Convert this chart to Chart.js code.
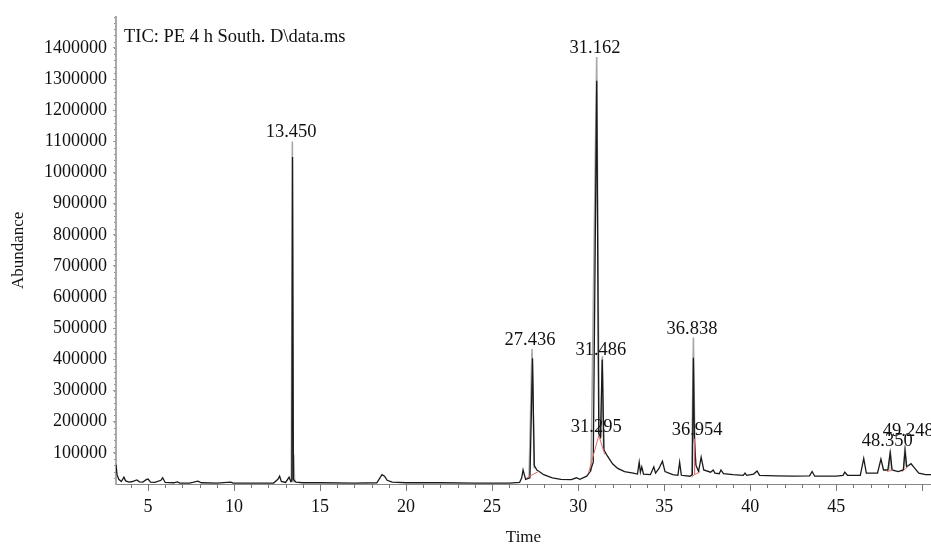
<!DOCTYPE html>
<html>
<head>
<meta charset="utf-8">
<script src="https://cdn.jsdelivr.net/npm/chart.js@4"></script>
<style>
    html, body { margin: 0; padding: 0; background: #fff; }
    #wrap { width: 931px; height: 544px; }
</style>
</head>
<body>
<div id="wrap"><canvas id="canvas-chart"></canvas></div>
<script>
// TIC trace (black)
const traceTimes = [
    3.14, 3.2, 3.3, 3.45, 3.6, 3.7, 3.9, 4.1, 4.35, 4.5, 4.7, 4.9, 5.0, 5.15, 5.4, 5.75, 5.85, 6.0,
    6.5, 6.7, 6.85, 7.4, 7.6, 7.9, 8.1, 9.0, 9.8, 9.95, 11.0, 12.3, 12.55, 12.65, 12.75, 13.0, 13.2,
    13.3, 13.36, 13.4, 13.45, 13.6, 14.0, 15.0, 17.0, 18.3, 18.6, 18.75, 18.9, 19.2, 20.0, 22.0,
    24.0, 26.0, 26.6, 26.72, 26.8, 26.95, 27.2, 27.35, 27.45, 27.6, 27.8, 28.0, 28.5, 29.0, 29.6,
    29.9, 30.1, 30.5, 30.7, 30.88, 31.08, 31.2, 31.3, 31.4, 31.5, 31.7, 32.0, 32.3, 32.7, 33.2,
    33.45, 33.55, 33.62, 33.7, 33.8, 34.2, 34.4, 34.5, 34.7, 34.9, 35.05, 35.5, 35.8, 35.9, 36.0,
    36.5, 36.64, 36.7, 36.76, 36.85, 37.0, 37.15, 37.3, 37.7, 37.85, 37.95, 38.2, 38.3, 38.45, 39.0,
    39.6, 39.7, 39.8, 40.2, 40.4, 40.55, 41.5, 42.5, 43.45, 43.6, 43.75, 45.0, 45.4, 45.5, 45.65,
    46.4, 46.6, 46.75, 47.4, 47.6, 47.75, 48.0, 48.14, 48.25, 48.6, 48.9, 49.0, 49.1, 49.35, 49.5,
    49.8, 50.2, 50.51
];
const traceAbund = [
    62000, 30000, 15000, 8000, 22000, 10000, 6000, 8000, 13000, 7000, 6000, 14000, 16000, 6000, 5000, 12000, 20000, 5000,
    4000, 7000, 3000, 3000, 5000, 9000, 4000, 3000, 6000, 3000, 3000, 3000, 15000, 25000, 8000, 5000, 22000,
    8000, 10000, 1050000, 15000, 6000, 4000, 4000, 3000, 4000, 30000, 25000, 12000, 6000, 4000, 4000,
    3000, 3000, 5000, 20000, 45000, 15000, 20000, 404000, 60000, 45000, 38000, 30000, 20000, 15000, 14000,
    20000, 15000, 25000, 40000, 70000, 1295000, 160000, 150000, 400000, 110000, 90000, 65000, 50000, 40000, 35000,
    32000, 70000, 38000, 55000, 32000, 30000, 55000, 35000, 50000, 73000, 40000, 30000, 28000, 70000, 28000,
    25000, 30000, 405000, 140000, 60000, 40000, 86000, 45000, 38000, 45000, 35000, 33000, 45000, 33000, 30000,
    28000, 35000, 28000, 32000, 42000, 28000, 26000, 25000, 26000, 40000, 25000, 25000, 28000, 38000, 28000,
    28000, 82000, 35000, 35000, 80000, 45000, 45000, 100000, 45000, 40000, 45000, 105000, 55000, 65000, 55000,
    35000, 30000, 30000
];

// second trace (grey), only around peaks; null breaks the line
const overlayTimes = [
    13.33, 13.39, 13.44, 13.47, 13.52, 13.6,
    27.15, 27.32, 27.45, 27.5,
    30.75, 31.08, 31.22, 31.3,
    31.33, 31.41, 31.48, 31.55,
    36.6, 36.7, 36.8, 36.85,
    48.05, 48.14, 48.22, 48.3,
    48.92, 49.0, 49.08
];
const overlayAbund = [
    5000, 1100000, 8000, 95000, 5000, null,
    20000, 433000, 50000, null,
    40000, 1371000, 160000, null,
    150000, 410000, 110000, null,
    28000, 470000, 60000, null,
    45000, 108000, 45000, null,
    45000, 124000, 55000
];

// integration baselines (red)
const baseTimes = [
    27.0, 27.7, 27.8,
    30.6, 31.2, 31.55, 31.6,
    36.6, 36.75, 36.76, 36.78, 37.1, 37.2,
    47.95, 48.3, 48.4,
    48.85, 49.2
];
const baseAbund = [
    20000, 40000, null,
    35000, 155000, 95000, null,
    22000, 30000, 145000, 30000, 40000, null,
    40000, 45000, null,
    40000, 58000
];

// peak labels
const peakTexts = ["13.450", "27.436", "31.162", "31.486", "31.295", "36.838", "36.954", "48.350", "49.248"];
const peakTimes = [13.32, 27.2, 30.98, 31.32, 31.05, 36.62, 36.92, 47.97, 49.19];
const peakHeights = [1100000, 433000, 1371000, 400000, 155000, 470000, 145000, 108000, 140000];

const xTicks = [5, 10, 15, 20, 25, 30, 35, 40, 45];
const yTicks = [100000, 200000, 300000, 400000, 500000, 600000, 700000, 800000, 900000,
    1000000, 1100000, 1200000, 1300000, 1400000];

const FONT = "'Liberation Serif', 'DejaVu Serif', serif";

function points(times, values) {
    return times.map((t, i) => ({ x: t, y: values[i] }));
}

const chartDecor = {
    id: "chartDecor",
    afterDraw(chart) {
        let ctx = chart.ctx;
        let xs = chart.scales.x;
        let ys = chart.scales.y;
        let area = chart.chartArea;
        ctx.save();
        // minor ticks on x axis
        ctx.strokeStyle = "#777";
        ctx.lineWidth = 1;
        for (let t = Math.ceil(xs.min); t <= xs.max; t++) {
            let px = Math.round(xs.getPixelForValue(t)) + 0.5;
            let len = (t % 5 == 0) ? 7 : 4;
            ctx.beginPath();
            ctx.moveTo(px, area.bottom);
            ctx.lineTo(px, area.bottom + len);
            ctx.stroke();
        }
        // minor ticks on y axis
        ctx.strokeStyle = "#999";
        for (let v = 20000; v <= ys.max; v += 20000) {
            let py = Math.round(ys.getPixelForValue(v)) + 0.5;
            ctx.beginPath();
            ctx.moveTo(area.left - 2, py);
            ctx.lineTo(area.left, py);
            ctx.stroke();
        }
        // title inside plot
        ctx.fillStyle = "#111";
        ctx.font = "18.5px " + FONT;
        ctx.textAlign = "left";
        ctx.textBaseline = "middle";
        ctx.fillText("TIC: PE 4 h South. D\\data.ms", area.left + 8, area.top + 20);
        // peak labels
        ctx.font = "18.5px " + FONT;
        ctx.textAlign = "center";
        ctx.textBaseline = "alphabetic";
        for (let i = 0; i < peakTexts.length; i++) {
            let px = xs.getPixelForValue(peakTimes[i]);
            let py = ys.getPixelForValue(peakHeights[i]);
            ctx.fillText(peakTexts[i], px, py - 4);
        }
        ctx.restore();
    }
};

let ctx = document.getElementById("canvas-chart");
let chart = new Chart(ctx, {
    type: "line",
    data: {
        datasets: [
            {
                label: "baseline",
                data: points(baseTimes, baseAbund),
                borderColor: "#e0706a",
                borderWidth: 1,
                pointRadius: 0,
                spanGaps: false,
            },
            {
                label: "TIC",
                data: points(traceTimes, traceAbund),
                borderColor: "#1a1a1a",
                borderWidth: 1.3,
                pointRadius: 0,
            },
            {
                label: "overlay",
                data: points(overlayTimes, overlayAbund),
                borderColor: "#a8a8a8",
                borderWidth: 1.6,
                pointRadius: 0,
                spanGaps: false,
            },
        ]
    },
    options: {
        responsive: true,
        maintainAspectRatio: false,
        animation: false,
        layout: { padding: { top: 12, right: 0, left: 0, bottom: 0 } },
        plugins: {
            legend: { display: false },
            tooltip: { enabled: false },
        },
        elements: { line: { tension: 0 } },
        scales: {
            x: {
                type: "linear",
                min: 3.14,
                max: 50.51,
                afterBuildTicks: (scale) => { scale.ticks = xTicks.map(v => ({ value: v })); },
                afterFit: (scale) => { scale.height = 60; },
                ticks: {
                    color: "#111",
                    font: { family: FONT, size: 18 },
                    padding: 4,
                    maxRotation: 0,
                    autoSkip: false,
                },
                grid: { display: false, drawOnChartArea: false },
                border: { color: "#888", width: 1 },
                title: {
                    display: true,
                    text: "Time",
                    color: "#111",
                    font: { family: FONT, size: 17 },
                    padding: { top: 0, bottom: -4 },
                },
            },
            y: {
                min: 0,
                max: 1500000,
                afterBuildTicks: (scale) => { scale.ticks = yTicks.map(v => ({ value: v })); },
                afterFit: (scale) => { scale.width = 116; },
                ticks: {
                    color: "#111",
                    font: { family: FONT, size: 18 },
                    padding: 6,
                    autoSkip: false,
                    callback: (v) => String(v),
                },
                grid: { display: true, drawOnChartArea: false, tickLength: 3, color: "#999" },
                border: { color: "#aaa", width: 2, dash: [1, 1] },
                title: {
                    display: true,
                    text: "Abundance",
                    color: "#111",
                    font: { family: FONT, size: 17 },
                    padding: { top: 8, bottom: 0 },
                },
            },
        },
    },
    plugins: [chartDecor],
});
</script>
</body>
</html>
